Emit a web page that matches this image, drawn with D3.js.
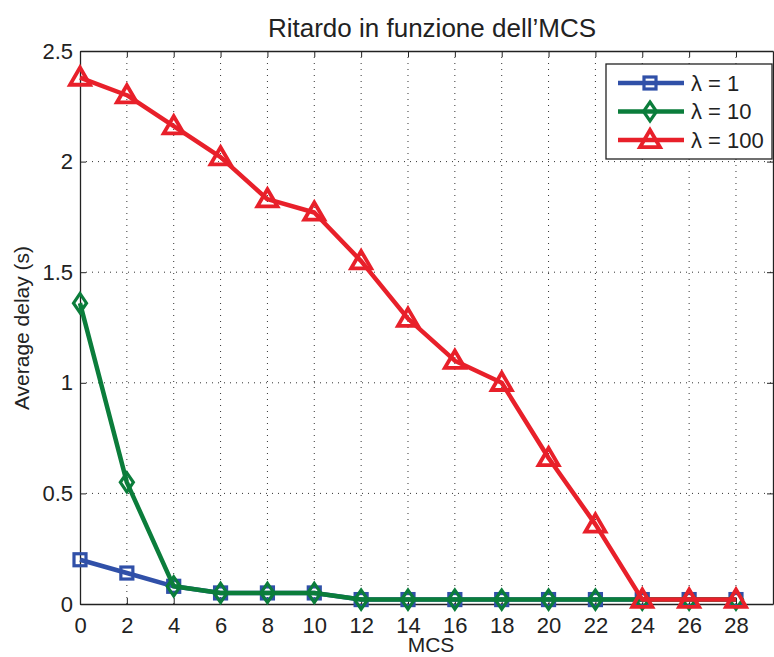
<!DOCTYPE html>
<html><head><meta charset="utf-8">
<script src="https://cdn.jsdelivr.net/npm/d3@7"></script>
<style>body{margin:0;background:#fff}svg{display:block}text{font-family:"Liberation Sans",Arial,sans-serif;fill:#222}</style>
</head><body><svg id="c" width="774" height="657"></svg>
<script>
const mcs = [0,2,4,6,8,10,12,14,16,18,20,22,24,26,28];
const lambda1 = [0.20,0.14,0.08,0.05,0.05,0.05,0.02,0.02,0.02,0.02,0.02,0.02,0.02,0.02,0.02];
const lambda10 = [1.36,0.55,0.08,0.05,0.05,0.05,0.02,0.02,0.02,0.02,0.02,0.02,0.02,0.02,0.02];
const lambda100 = [2.38,2.30,2.16,2.02,1.83,1.77,1.55,1.29,1.10,1.00,0.66,0.36,0.02,0.02,0.02];
const seriesNames = ["λ = 1","λ = 10","λ = 100"];
const colors = ["#3050a8","#0b7d3b","#e8202a"];
const markers = ["square","diamond","triangle"];
const xTicks = mcs;
const yTicks = [0,0.5,1,1.5,2,2.5];
const yTickLabels = ["0","0.5","1","1.5","2","2.5"];

const svg = d3.select("#c");
const L=80,R=773,T=51,B=604;
const x = d3.scaleLinear().domain([0,29.58]).range([L,R]);
const y = d3.scaleLinear().domain([0,2.5]).range([B,T]);

// grid
const g = svg.append("g");
g.selectAll(".vg").data(xTicks.filter(d=>d>0)).enter().append("line")
 .attr("x1",d=>x(d)).attr("x2",d=>x(d)).attr("y1",T).attr("y2",B)
 .attr("stroke","#333").attr("stroke-width",1).attr("stroke-dasharray","1,5");
g.selectAll(".hg").data(yTicks.filter(d=>d>0&&d<2.5)).enter().append("line")
 .attr("x1",L).attr("x2",R).attr("y1",d=>y(d)).attr("y2",d=>y(d))
 .attr("stroke","#333").attr("stroke-width",1).attr("stroke-dasharray","1,5");

// axes
const xa = svg.append("g").attr("transform",`translate(0,${B})`)
 .call(d3.axisBottom(x).tickValues(xTicks).tickSize(-6).tickPadding(13).tickSizeOuter(0));
const xaT = svg.append("g").attr("transform",`translate(0,${T})`)
 .call(d3.axisTop(x).tickValues(xTicks).tickSize(-6).tickFormat("").tickSizeOuter(0));
const ya = svg.append("g").attr("transform",`translate(${L},0)`)
 .call(d3.axisLeft(y).tickValues(yTicks).tickFormat((d,i)=>yTickLabels[i]).tickSize(-6).tickPadding(7).tickSizeOuter(0));
const yaR = svg.append("g").attr("transform",`translate(${R},0)`)
 .call(d3.axisRight(y).tickValues(yTicks).tickFormat("").tickSize(-6).tickSizeOuter(0));
[xa,xaT,ya,yaR].forEach(a=>{
  a.selectAll("path").attr("stroke","#222").attr("stroke-width",1.3);
  a.selectAll("line").attr("stroke","#222").attr("stroke-width",1);
  a.selectAll("text").attr("font-size",22).attr("fill","#222").attr("font-family","Liberation Sans, Arial, sans-serif");
});
xa.selectAll("text").attr("dy","0.71em");

function drawMarker(sel,type,color){
  if(type==="square"){
    const size=12;
    sel.append("rect").attr("x",-size/2).attr("y",-size/2).attr("width",size).attr("height",size)
     .attr("fill","none").attr("stroke",color).attr("stroke-width",3.2);
  } else if(type==="diamond"){
    const h=9.5, w=6.5;
    sel.append("path").attr("d",`M0,${-h}L${w},0L0,${h}L${-w},0Z`)
     .attr("fill","none").attr("stroke",color).attr("stroke-width",3.2);
  } else {
    const s=10;
    sel.append("path").attr("d",`M0,${-s}L${s},${s*0.72}L${-s},${s*0.72}Z`)
     .attr("fill","none").attr("stroke",color).attr("stroke-width",3.8).attr("stroke-linejoin","miter");
  }
}
const allSeries=[lambda1,lambda10,lambda100];
const line = d3.line().x((d,i)=>x(mcs[i])).y(d=>y(d));
allSeries.forEach((vals,k)=>{
  const sg = svg.append("g");
  sg.append("path").datum(vals).attr("d",line).attr("fill","none")
   .attr("stroke",colors[k]).attr("stroke-width",4.5).attr("stroke-linejoin","round");
  vals.forEach((v,i)=>{
    const m = sg.append("g").attr("transform",`translate(${x(mcs[i])},${y(v)})`);
    drawMarker(m,markers[k],colors[k]);
  });
});

// legend
const lg = svg.append("g");
lg.append("rect").attr("x",606).attr("y",64).attr("width",166).attr("height",95)
 .attr("fill","#fff").attr("stroke","#222").attr("stroke-width",1.3);
seriesNames.forEach((n,k)=>{
  const yy = 83 + k*28.5;
  lg.append("line").attr("x1",618).attr("x2",684).attr("y1",yy).attr("y2",yy)
   .attr("stroke",colors[k]).attr("stroke-width",4.5);
  const m = lg.append("g").attr("transform",`translate(650,${yy})`);
  drawMarker(m,markers[k],colors[k]);
  lg.append("text").attr("x",691).attr("y",yy).attr("dy","0.36em").attr("font-size",22).text(n);
});

// titles
svg.append("text").attr("x",432).attr("y",37).attr("text-anchor","middle").attr("font-size",26).text("Ritardo in funzione dell’MCS");
svg.append("text").attr("x",431).attr("y",652).attr("text-anchor","middle").attr("font-size",21).text("MCS");
svg.append("text").attr("transform","translate(29,328) rotate(-90)").attr("text-anchor","middle").attr("font-size",21).text("Average delay (s)");
</script></body></html>
